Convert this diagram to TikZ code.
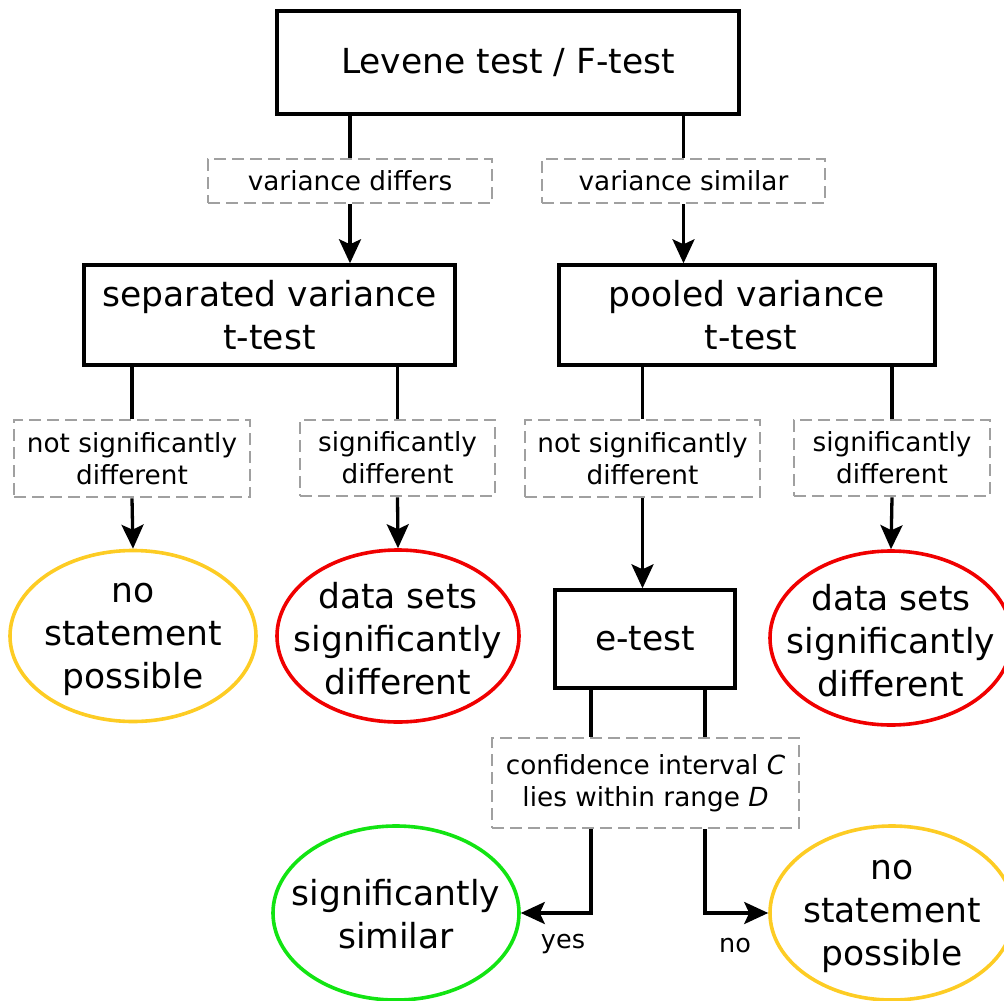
\documentclass[tikz,border=0pt]{standalone}
\usepackage{fontspec}
\setmainfont{DejaVu Sans}
\usetikzlibrary{arrows.meta,shapes.geometric}

\definecolor{ygold}{RGB}{253,204,36}
\definecolor{sigred}{RGB}{240,0,0}
\definecolor{siggreen}{RGB}{18,228,18}
\definecolor{dashgray}{RGB}{160,160,160}

\tikzset{
  testbox/.style={draw=black, line width=3.4pt, rectangle, inner sep=0pt,
    align=center, font=\fontsize{34.5}{43}\selectfont},
  condbox/.style={draw=dashgray, line width=2.6pt, dash pattern=on 12pt off 6pt,
    rectangle, inner sep=0pt, align=center, font=\fontsize{26.3}{32}\selectfont},
  outcome/.style={ellipse, line width=3.6pt, inner sep=0pt},
  outtext/.style={align=center, font=\fontsize{34.5}{43}\selectfont},
  link/.style={draw=black, line width=3.3pt},
  flow/.style={link, -{Stealth[length=24pt,width=22pt,inset=5pt]}},
  answer/.style={font=\fontsize{25.5}{30}\selectfont}
}

\begin{document}
\begin{tikzpicture}[x=1pt,y=-1pt]
\useasboundingbox (0,0) rectangle (1004,1001);
\clip (0,0) rectangle (1004,1001);

% test boxes
\node[testbox, minimum width=462pt, minimum height=103pt] (lev) at (508,62.5) {Levene test / F-test};
\node[testbox, minimum width=371pt, minimum height=100pt] (sep) at (269.5,315) {separated variance\\t-test};
\node[testbox, minimum width=376pt, minimum height=100pt] (pool) at (747,315) {pooled variance\\\hspace*{8pt}t-test};
\node[testbox, minimum width=180pt, minimum height=98pt] (etest) at (645,639) {e-test};

% conditions
\node[condbox, minimum width=284pt, minimum height=44pt] (vdiff) at (350,181) {variance differs};
\node[condbox, minimum width=283pt, minimum height=44pt] (vsim) at (683.5,181) {variance similar};
\node[condbox, minimum width=236pt, minimum height=77pt] (nsdA) at (132,458.5) {not significantly\\different};
\node[condbox, minimum width=195pt, minimum height=76pt] (sdA) at (397.5,458) {significantly\\different};
\node[condbox, minimum width=235pt, minimum height=77pt] (nsdB) at (642.5,458.5) {not significantly\\different};
\node[condbox, minimum width=196pt, minimum height=76pt] (sdB) at (892,458) {significantly\\different};
\node[condbox, minimum width=307pt, minimum height=90pt] (conf) at (645.5,783) {confidence interval \textit{C}\\lies within range \textit{D}};

% outcomes
\node[outcome, draw=ygold, minimum width=246pt, minimum height=171pt] (nspA) at (133,636) {};
\node[outtext] at ([yshift=-3pt]nspA) {no\\statement\\possible};
\node[outcome, draw=sigred, minimum width=242pt, minimum height=172pt] (dsdA) at (398,636) {};
\node[outtext] at ([yshift=-3pt]dsdA) {data sets\\significantly\\different};
\node[outcome, draw=sigred, minimum width=242pt, minimum height=174pt] (dsdB) at (891,638) {};
\node[outtext] at ([yshift=-3pt]dsdB) {data sets\\significantly\\different};
\node[outcome, draw=siggreen, minimum width=246pt, minimum height=174pt] (sim) at (396,913) {};
\node[outtext] at ([yshift=-1pt]sim) {significantly\\similar};
\node[outcome, draw=ygold, minimum width=244pt, minimum height=174pt] (nspB) at (892,913) {};
\node[outtext] at ([yshift=-3pt]nspB) {no\\statement\\possible};

% connectors
\draw[link] (lev.south -| vdiff) -- (vdiff.north);
\draw[link] (lev.south -| vsim) -- (vsim.north);
\draw[flow] (vdiff.south) -- (sep.north -| vdiff);
\draw[flow] (vsim.south) -- (pool.north -| vsim);

\draw[link] (sep.south -| nsdA) -- (nsdA.north);
\draw[link] (sep.south -| sdA) -- (sdA.north);
\draw[flow] (nsdA.south) -- (nspA.north);
\draw[flow] (sdA.south) -- (dsdA.north);

\draw[link] (pool.south -| nsdB) -- (nsdB.north);
\draw[link] (pool.south -| sdB) -- (sdB.north);
\draw[flow] (nsdB.south) -- (etest.north -| nsdB);
\draw[flow] (sdB.south) -- (dsdB.north);

\draw[link] ([xshift=-54pt]etest.south) -- ([xshift=-54.5pt]conf.north);
\draw[link] ([xshift=60pt]etest.south) -- ([xshift=59.5pt]conf.north);
\draw[flow] ([xshift=-54.5pt]conf.south) |- (sim.east);
\draw[flow] ([xshift=59.5pt]conf.south) |- (nspB.west);

% answers
\node[answer] (yes) at (563,944) {yes};
\node[answer] (no) at (735,946) {no};
\end{tikzpicture}
\end{document}
